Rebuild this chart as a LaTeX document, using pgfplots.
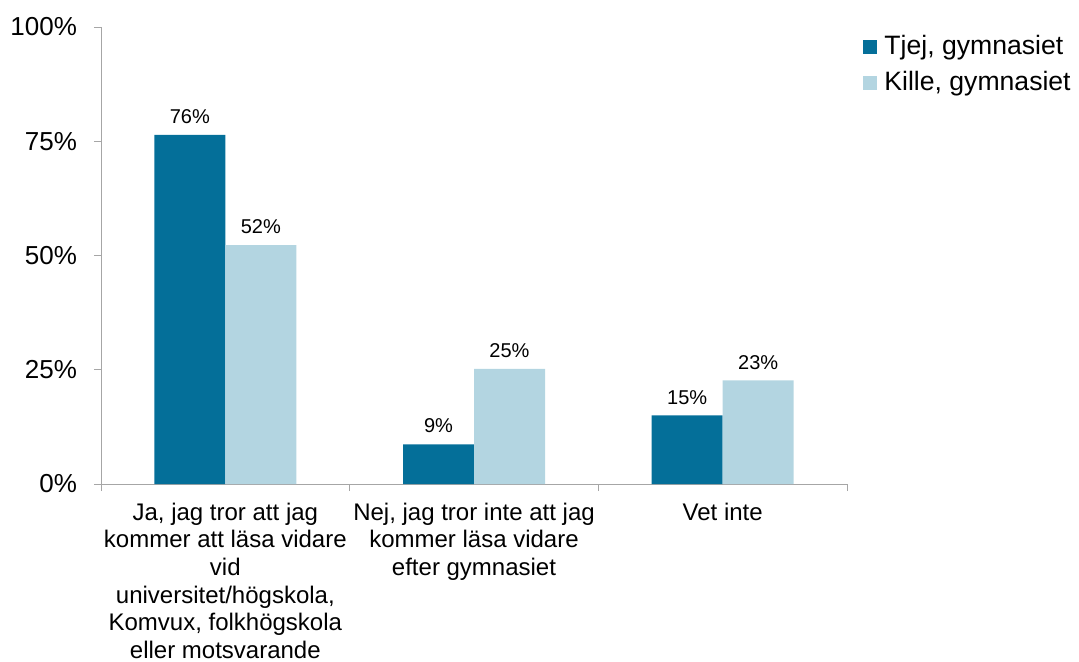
\documentclass[border=0pt]{standalone}
\usepackage{pgfplots}
\pgfplotsset{compat=1.18}
\usepackage{fontspec}
\setmainfont{Liberation Sans}
\definecolor{tjej}{RGB}{4,111,153}
\definecolor{kille}{RGB}{179,213,225}
\definecolor{axgray}{RGB}{166,166,166}
\begin{document}
\begin{tikzpicture}
\begin{axis}[
  scale only axis, width=373pt, height=228.5pt,
  at={(0,0)}, anchor=south west,
  xmin=-0.5, xmax=2.5, ymin=0, ymax=100,
  axis x line*=bottom, axis y line*=left,
  axis line style={draw=axgray, line width=0.5pt, -},
  tick align=outside,
  major tick length=3.5pt,
  ytick={0,25,50,75,100},
  yticklabel={\pgfmathprintnumber{\tick}\%},
  yticklabel style={font=\fontsize{13}{15}\selectfont, xshift=-5pt},
  ytick style={draw=axgray, line width=0.5pt},
  xtick={0,1,2},
  xtick style={draw=none},
  xticklabels={{Ja, jag tror att jag\\kommer att läsa vidare\\vid\\universitet/högskola,\\Komvux, folkhögskola\\eller motsvarande},{Nej, jag tror inte att jag\\kommer läsa vidare\\efter gymnasiet},{Vet inte}},
  xticklabel style={align=center, font=\fontsize{12}{13.85}\selectfont, anchor=north, yshift=-2.3pt},
  extra x ticks={-0.5,0.5,1.5,2.5},
  extra x tick labels={},
  extra x tick style={xtick style={draw=axgray, line width=0.5pt}},
  ybar=0pt, bar width=35.5pt,
  nodes near coords={\pgfmathprintnumber[fixed,precision=0]{\pgfplotspointmeta}\%},
  nodes near coords style={font=\fontsize{10}{12}\selectfont, text=black, yshift=2pt},
  /pgf/number format/assume math mode=true,
  legend style={at={(1,1)}, anchor=north west, xshift=5pt, draw=none, fill=none,
    font=\fontsize{13.3}{15}\selectfont, row sep=3pt},
  legend cell align=left,
]
\addplot[fill=tjej, draw=none, legend image code/.code={\fill[tjej] (0pt,-3.5pt) rectangle (7pt,3.5pt); \path (8.5pt,0pt);}] coordinates {(0,76.4) (1,8.7) (2,15.0)};
\addlegendentry{Tjej, gymnasiet}
\addplot[fill=kille, draw=none, legend image code/.code={\fill[kille] (0pt,-3.5pt) rectangle (7pt,3.5pt); \path (8.5pt,0pt);}] coordinates {(0,52.3) (1,25.2) (2,22.7)};
\addlegendentry{Kille, gymnasiet}
\end{axis}
\pgfresetboundingbox
\useasboundingbox (-50.5pt,-88.5pt) rectangle (489pt,242pt);
\end{tikzpicture}
\end{document}
